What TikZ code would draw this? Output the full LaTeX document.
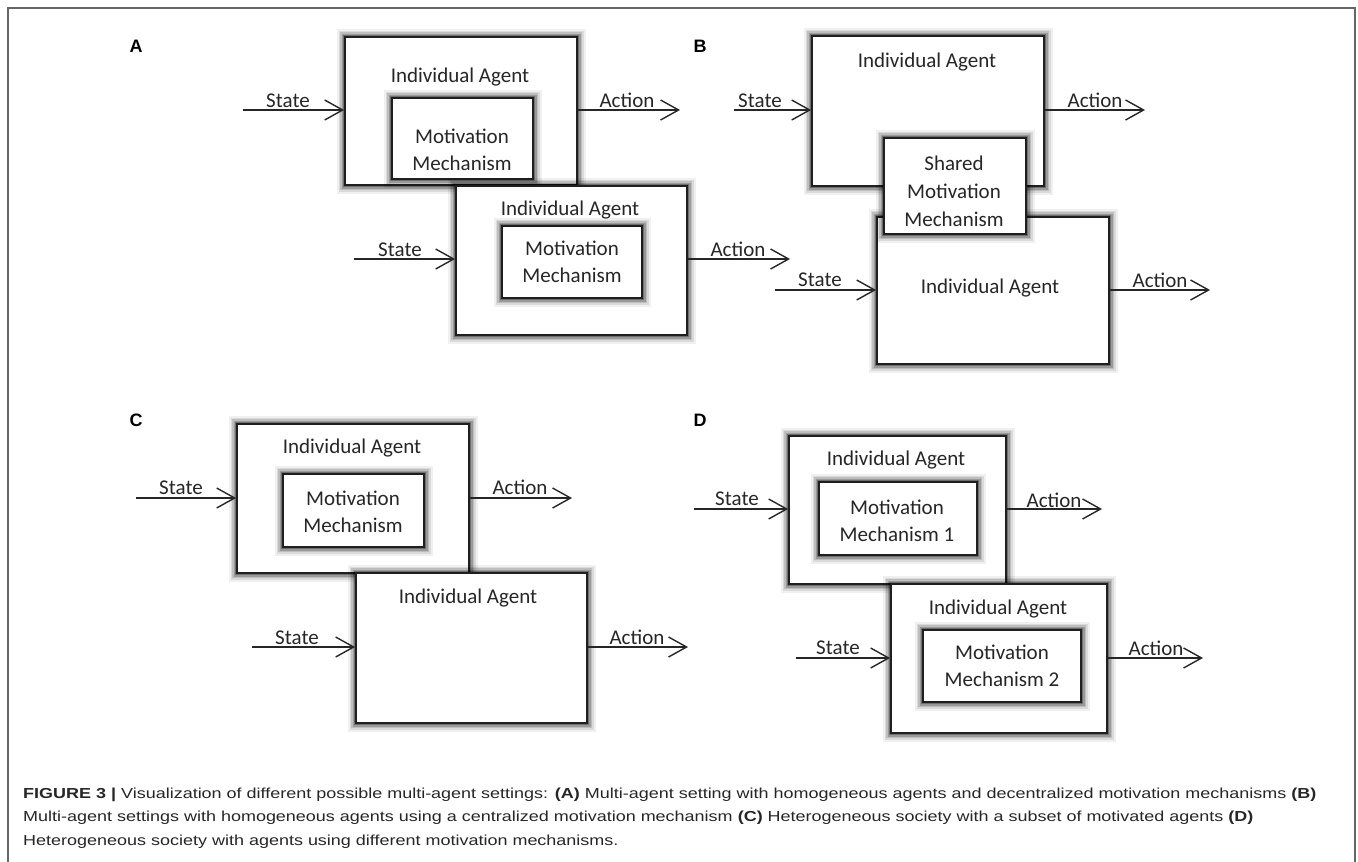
\documentclass[tikz,border=0pt]{standalone}
\usepackage{fontspec}
\usepackage{graphicx}
\setmainfont{Liberation Sans}
\newfontfamily\calfont{Carlito}
\usetikzlibrary{arrows.meta,fit}
\tikzset{
 x=1pt,y=-1pt,
 box/.style={draw=black!88, line width=1.8pt, fill=white, inner sep=0pt,
   preaction={draw=black, draw opacity=0.06, line width=17pt},
   preaction={draw=black, draw opacity=0.09, line width=13pt},
   preaction={draw=black, draw opacity=0.13, line width=10pt},
   preaction={draw=black, draw opacity=0.19, line width=7pt},
   preaction={draw=black, draw opacity=0.28, line width=4.5pt}},
 txt/.style={font=\calfont\fontsize{21}{27}\selectfont, text=black!85, inner sep=0pt, align=center},
 flow/.style={draw=black!85, line width=1.4pt, -{Straight Barb[length=18pt,width=20pt]}},
 panel/.style={font=\bfseries\fontsize{18}{20}\selectfont, inner sep=0pt},
 captext/.style={font=\fontsize{14.5}{17}\selectfont, text=black!85, inner sep=0pt, anchor=west},
}
\newcommand{\capline}[1]{\scalebox{1.24}[1]{#1}}
\begin{document}
\begin{tikzpicture}
\useasboundingbox (0,0) rectangle (1358,862);
\draw[black!60, line width=2pt] (8,862) -- (8,8) -- (1355,8) -- (1355,862);

% panel labels
\node[panel] (pA) at (136,46) {A};
\node[panel] (pB) at (700,46) {B};
\node[panel] (pC) at (136,420) {C};
\node[panel] (pD) at (700,420) {D};

% ---------- Panel A ----------
\node[box, fit={(345,37)(577,185)}] (a1) {};
\node[txt] (a1t) at (460,77) {Individual Agent};
\node[box, fit={(392,98)(533,179)}] (ma1) {};
\node[txt] (ma1t) at (462,150) {Motivation\\Mechanism};
\node[box, fit={(456,186)(687,335)}] (a2) {};
\node[txt] (a2t) at (570,210) {Individual Agent};
\node[box, fit={(502,226)(642,298)}] (ma2) {};
\node[txt] (ma2t) at (572,262) {Motivation\\Mechanism};
\coordinate (sa1) at (243,110);
\coordinate (ea1) at (680,110);
\coordinate (sa2) at (354,259);
\coordinate (ea2) at (790,259);
\draw[flow] (sa1) -- (sa1 -| a1.west);
\draw[flow] (a1.east |- ea1) -- (ea1);
\draw[flow] (sa2) -- (sa2 -| a2.west);
\draw[flow] (a2.east |- ea2) -- (ea2);
\node[txt] (la1) at (288,101) {State};
\node[txt] (la2) at (627,100) {Action};
\node[txt] (la3) at (400,250) {State};
\node[txt] (la4) at (738,249) {Action};

% ---------- Panel B ----------
\node[box, fit={(812,36)(1044,186)}] (b1) {};
\node[txt] (b1t) at (927,62) {Individual Agent};
\node[box, fit={(877,217)(1109,364)}] (b2) {};
\node[txt] (b2t) at (990,288) {Individual Agent};
\node[box, fit={(884,138)(1026,234)}] (mb) {};
\node[txt, font=\calfont\fontsize{21}{28}\selectfont] (mbt) at (954,191) {Shared\\Motivation\\Mechanism};
\coordinate (sb1) at (734,110);
\coordinate (eb1) at (1145,110);
\coordinate (sb2) at (775,290);
\coordinate (eb2) at (1210,290);
\draw[flow] (sb1) -- (sb1 -| b1.west);
\draw[flow] (b1.east |- eb1) -- (eb1);
\draw[flow] (sb2) -- (sb2 -| b2.west);
\draw[flow] (b2.east |- eb2) -- (eb2);
\node[txt] (lb1) at (760,101) {State};
\node[txt] (lb2) at (1095,100) {Action};
\node[txt] (lb3) at (820,280) {State};
\node[txt] (lb4) at (1160,280) {Action};

% ---------- Panel C ----------
\node[box, fit={(237,424)(469,573)}] (c1) {};
\node[txt] (c1t) at (352,448) {Individual Agent};
\node[box, fit={(283,474)(424,547)}] (mc) {};
\node[txt] (mct) at (353,512) {Motivation\\Mechanism};
\node[box, fit={(356,573)(587,723)}] (c2) {};
\node[txt] (c2t) at (468,598) {Individual Agent};
\coordinate (sc1) at (136,498);
\coordinate (ec1) at (572,498);
\coordinate (sc2) at (252,647);
\coordinate (ec2) at (688,647);
\draw[flow] (sc1) -- (sc1 -| c1.west);
\draw[flow] (c1.east |- ec1) -- (ec1);
\draw[flow] (sc2) -- (sc2 -| c2.west);
\draw[flow] (c2.east |- ec2) -- (ec2);
\node[txt] (lc1) at (181,488) {State};
\node[txt] (lc2) at (520,487) {Action};
\node[txt] (lc3) at (297,638) {State};
\node[txt] (lc4) at (637,637) {Action};

% ---------- Panel D ----------
\node[box, fit={(789,436)(1006,584)}] (d1) {};
\node[txt] (d1t) at (896,460) {Individual Agent};
\node[box, fit={(819,482)(977,555)}] (md1) {};
\node[txt] (md1t) at (897,521) {Motivation\\Mechanism 1};
\node[box, fit={(891,584)(1107,733)}] (d2) {};
\node[txt] (d2t) at (998,609) {Individual Agent};
\node[box, fit={(923,630)(1081,702)}] (md2) {};
\node[txt] (md2t) at (1002,666) {Motivation\\Mechanism 2};
\coordinate (sd1) at (694,509);
\coordinate (ed1) at (1102,509);
\coordinate (sd2) at (796,658);
\coordinate (ed2) at (1203,658);
\draw[flow] (sd1) -- (sd1 -| d1.west);
\draw[flow] (d1.east |- ed1) -- (ed1);
\draw[flow] (sd2) -- (sd2 -| d2.west);
\draw[flow] (d2.east |- ed2) -- (ed2);
\node[txt] (ld1) at (737,499) {State};
\node[txt] (ld2) at (1054,500) {Action};
\node[txt] (ld3) at (838,648) {State};
\node[txt] (ld4) at (1156,648) {Action};

% ---------- Caption ----------
\node[captext] (cap1) at (23,795) {\capline{\textbf{FIGURE 3 |} Visualization of different possible multi-agent settings: \textbf{(A)} Multi-agent setting with homogeneous agents and decentralized motivation mechanisms \textbf{(B)}}};
\node[captext] (cap2) at (23,818) {\capline{Multi-agent settings with homogeneous agents using a centralized motivation mechanism \textbf{(C)} Heterogeneous society with a subset of motivated agents \textbf{(D)}}};
\node[captext] (cap3) at (23,842) {\capline{Heterogeneous society with agents using different motivation mechanisms.}};
\end{tikzpicture}
\end{document}
